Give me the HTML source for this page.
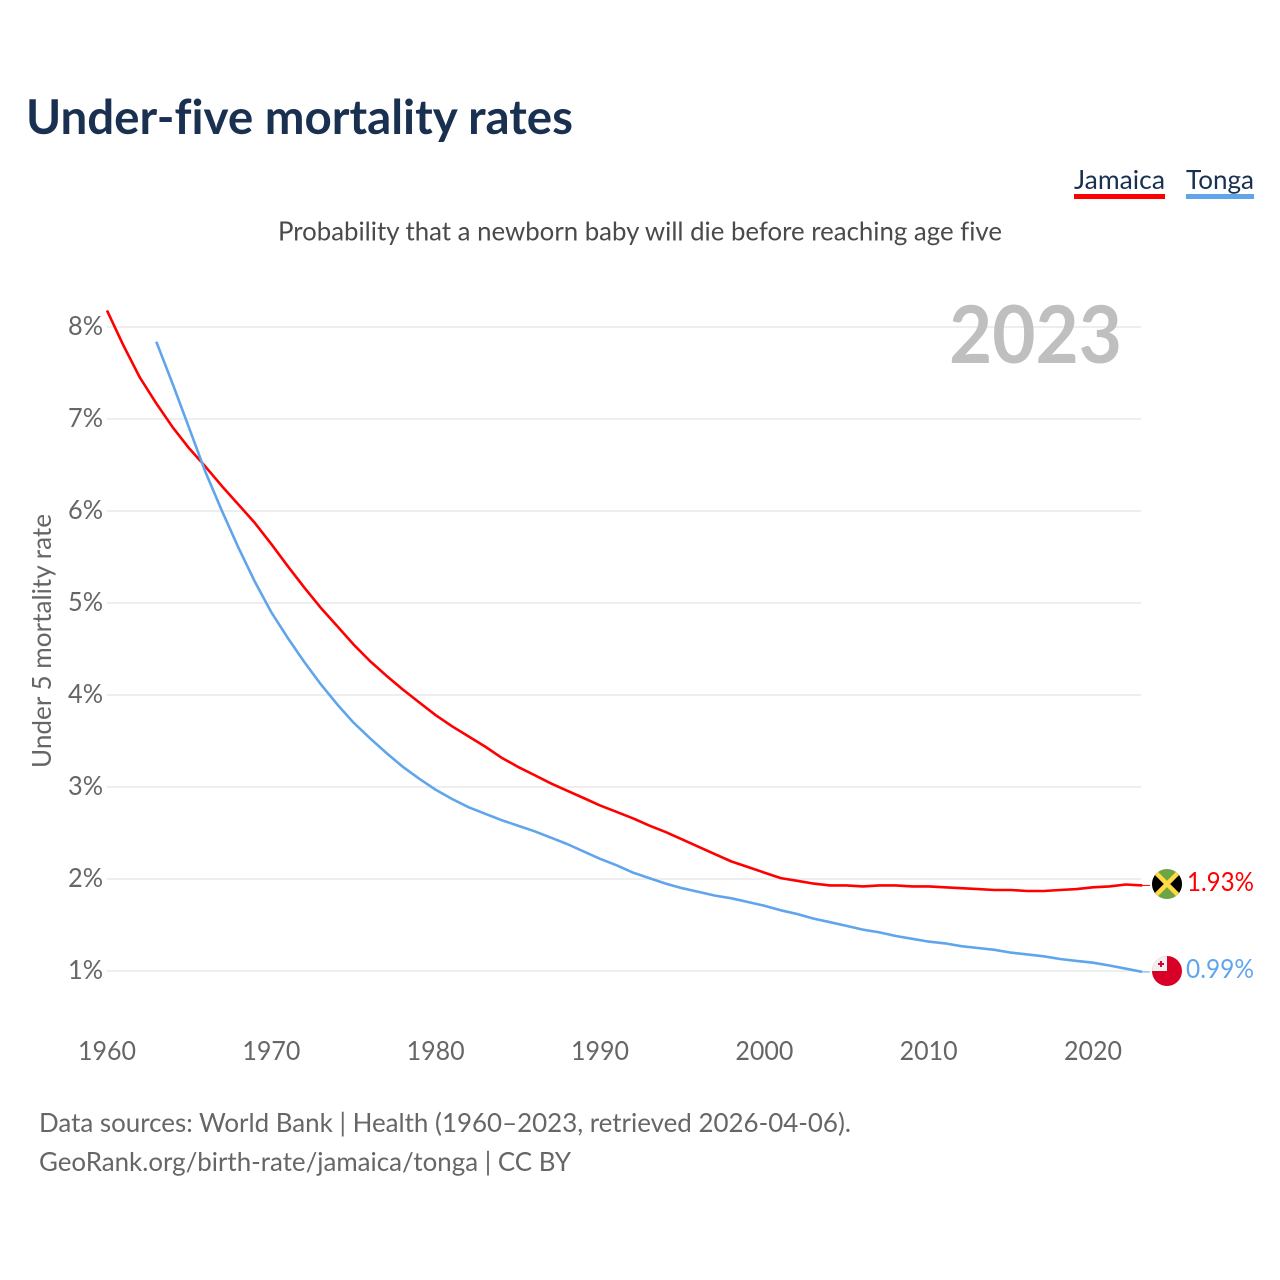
<!DOCTYPE html>
<html lang="en">
<head>
<meta charset="utf-8">
<title>Under-five mortality rates</title>
<style>
html,body{margin:0;padding:0;background:#fff;width:1280px;height:1280px;overflow:hidden}
svg{display:block;font-family:"Lato","Carlito","Liberation Sans",sans-serif;font-variant-ligatures:none;font-feature-settings:"liga" 0}
</style>
</head>
<body>
<svg id="chart" width="1280" height="1280" viewBox="0 0 1280 1280" xmlns="http://www.w3.org/2000/svg">
  <defs>
    <clipPath id="clip-jm"><circle cx="1167" cy="884" r="15"/></clipPath>
    <clipPath id="clip-to"><circle cx="1167" cy="971" r="15"/></clipPath>
  </defs>
  <rect width="1280" height="1280" fill="#fff"/>
  <text x="26" y="134" font-size="48" font-weight="700" fill="#1a3050" textLength="547" lengthAdjust="spacingAndGlyphs">Under-five mortality rates</text>
  <text x="278" y="240.5" font-size="26" fill="#4a4a4a" textLength="724" lengthAdjust="spacingAndGlyphs">Probability that a newborn baby will die before reaching age five</text>

  <g>
    <text x="1074" y="189" font-size="26" fill="#1a3050" textLength="91" lengthAdjust="spacingAndGlyphs">Jamaica</text>
    <rect x="1074" y="194" width="91" height="5" fill="#ff0000"/>
  </g>
  <g>
    <text x="1186" y="189" font-size="26" fill="#1a3050" textLength="68" lengthAdjust="spacingAndGlyphs">Tonga</text>
    <rect x="1186" y="194" width="68" height="5" fill="#60a5ec"/>
  </g>

  <g id="grid"></g>
  <g id="yticks"></g>
  <g id="xticks"></g>
  <text x="1122" y="363" text-anchor="end" font-size="80" font-weight="700" fill="#bfbfbf" textLength="173" lengthAdjust="spacingAndGlyphs">2023</text>
  <text transform="translate(51,768) rotate(-90)" font-size="26" fill="#666" textLength="254" lengthAdjust="spacingAndGlyphs">Under 5 mortality rate</text>
  <g id="series"></g>

  <g clip-path="url(#clip-jm)">
    <rect x="1152" y="869" width="30" height="30" fill="#6da544"/>
    <path d="M1152 869 L1167 884 L1152 899 Z M1182 869 L1167 884 L1182 899 Z" fill="#000"/>
    <path d="M1152 869 L1182 899 M1182 869 L1152 899" stroke="#ffda44" stroke-width="4.5"/>
  </g>
  <g clip-path="url(#clip-to)">
    <rect x="1152" y="956" width="30" height="30" fill="#d80027"/>
    <rect x="1152" y="956" width="15" height="15" fill="#f0f0f0"/>
    <path d="M1161 961 v6 M1158 964 h6" stroke="#d80027" stroke-width="2"/>
  </g>
  <text x="1254" y="891" text-anchor="end" font-size="26" fill="#ff0000" textLength="67" lengthAdjust="spacingAndGlyphs">1.93%</text>
  <text x="1254" y="978" text-anchor="end" font-size="26" fill="#60a5ec" textLength="68" lengthAdjust="spacingAndGlyphs">0.99%</text>

  <text x="39" y="1132" font-size="26" fill="#666" textLength="812" lengthAdjust="spacingAndGlyphs">Data sources: World Bank | Health (1960–2023, retrieved 2026-04-06).</text>
  <text x="39" y="1171" font-size="26" fill="#666" textLength="532" lengthAdjust="spacingAndGlyphs">GeoRank.org/birth-rate/jamaica/tonga | CC BY</text>
</svg>
<script>
var xTickYears = [1960, 1970, 1980, 1990, 2000, 2010, 2020];
var yTickValues = [1, 2, 3, 4, 5, 6, 7, 8];
var jamaicaStartYear = 1960;
var jamaicaValues = [8.18, 7.80, 7.45, 7.17, 6.91, 6.68, 6.48, 6.27, 6.07, 5.87, 5.64, 5.40, 5.17, 4.95, 4.75, 4.55, 4.37, 4.21, 4.06, 3.92, 3.78, 3.66, 3.55, 3.44, 3.32, 3.22, 3.13, 3.04, 2.96, 2.88, 2.80, 2.73, 2.66, 2.58, 2.51, 2.43, 2.35, 2.27, 2.19, 2.13, 2.07, 2.01, 1.98, 1.95, 1.93, 1.93, 1.92, 1.93, 1.93, 1.92, 1.92, 1.91, 1.90, 1.89, 1.88, 1.88, 1.87, 1.87, 1.88, 1.89, 1.91, 1.92, 1.94, 1.93];
var tongaStartYear = 1963;
var tongaValues = [7.84, 7.38, 6.90, 6.42, 6.00, 5.60, 5.23, 4.90, 4.62, 4.36, 4.12, 3.90, 3.70, 3.53, 3.37, 3.22, 3.09, 2.97, 2.87, 2.78, 2.71, 2.64, 2.58, 2.52, 2.45, 2.38, 2.30, 2.22, 2.15, 2.07, 2.01, 1.95, 1.90, 1.86, 1.82, 1.79, 1.75, 1.71, 1.66, 1.62, 1.57, 1.53, 1.49, 1.45, 1.42, 1.38, 1.35, 1.32, 1.30, 1.27, 1.25, 1.23, 1.20, 1.18, 1.16, 1.13, 1.11, 1.09, 1.06, 1.025, 0.99];

var NS = 'http://www.w3.org/2000/svg';
function xScale(year) { return 107 + (year - 1960) * (1093 - 107) / 60; }
function yScale(v) { return 971 - (v - 1) * (971 - 327) / 7; }
function linePoints(startYear, values) {
  return values.map(function (v, i) {
    return xScale(startYear + i).toFixed(1) + ',' + yScale(v).toFixed(1);
  }).join(' ');
}

var gridGroup = document.getElementById('grid');
var yGroup = document.getElementById('yticks');
yTickValues.forEach(function (v) {
  var ln = document.createElementNS(NS, 'line');
  
  
  ln.setAttribute('x1', xScale(1960));
  ln.setAttribute('x2', xScale(2023) - 1);
  ln.setAttribute('y1', yScale(v));
  ln.setAttribute('y2', yScale(v));
  ln.setAttribute('stroke', '#eeeeee');
  ln.setAttribute('stroke-width', '2');
  gridGroup.appendChild(ln);
  var t = document.createElementNS(NS, 'text');
  
  
  t.setAttribute('x', '103');
  t.setAttribute('y', yScale(v) + 8);
  t.setAttribute('text-anchor', 'end');
  t.setAttribute('font-size', '26');
  t.setAttribute('fill', '#666');
  t.setAttribute('textLength', '35');
  t.setAttribute('lengthAdjust', 'spacingAndGlyphs');
  t.textContent = v + '%';
  yGroup.appendChild(t);
});

var xGroup = document.getElementById('xticks');
xTickYears.forEach(function (y) {
  var t = document.createElementNS(NS, 'text');
  
  
  t.setAttribute('x', xScale(y));
  t.setAttribute('y', '1060');
  t.setAttribute('text-anchor', 'middle');
  t.setAttribute('font-size', '26');
  t.setAttribute('fill', '#666');
  t.setAttribute('textLength', '58');
  t.setAttribute('lengthAdjust', 'spacingAndGlyphs');
  t.textContent = y;
  xGroup.appendChild(t);
});

var seriesGroup = document.getElementById('series');

var jamaicaLine = document.createElementNS(NS, 'polyline');


jamaicaLine.setAttribute('points', linePoints(jamaicaStartYear, jamaicaValues));
jamaicaLine.setAttribute('fill', 'none');
jamaicaLine.setAttribute('stroke', '#ff0000');
jamaicaLine.setAttribute('stroke-width', '2.6');
jamaicaLine.setAttribute('stroke-linejoin', 'round');
seriesGroup.appendChild(jamaicaLine);

var tongaLine = document.createElementNS(NS, 'polyline');


tongaLine.setAttribute('points', linePoints(tongaStartYear, tongaValues));
tongaLine.setAttribute('fill', 'none');
tongaLine.setAttribute('stroke', '#60a5ec');
tongaLine.setAttribute('stroke-width', '2.6');
tongaLine.setAttribute('stroke-linejoin', 'round');
seriesGroup.appendChild(tongaLine);

var jamaicaLeader = document.createElementNS(NS, 'line');


jamaicaLeader.setAttribute('x1', xScale(2023));
jamaicaLeader.setAttribute('x2', '1150');
jamaicaLeader.setAttribute('y1', yScale(jamaicaValues[jamaicaValues.length - 1]));
jamaicaLeader.setAttribute('y2', yScale(jamaicaValues[jamaicaValues.length - 1]));
jamaicaLeader.setAttribute('stroke', '#ff0000');
jamaicaLeader.setAttribute('stroke-width', '1');
seriesGroup.appendChild(jamaicaLeader);

var tongaLeader = document.createElementNS(NS, 'line');


tongaLeader.setAttribute('x1', xScale(2023));
tongaLeader.setAttribute('x2', '1150');
tongaLeader.setAttribute('y1', yScale(tongaValues[tongaValues.length - 1]));
tongaLeader.setAttribute('y2', yScale(tongaValues[tongaValues.length - 1]));
tongaLeader.setAttribute('stroke', '#60a5ec');
tongaLeader.setAttribute('stroke-width', '1');
seriesGroup.appendChild(tongaLeader);
</script>
</body>
</html>
